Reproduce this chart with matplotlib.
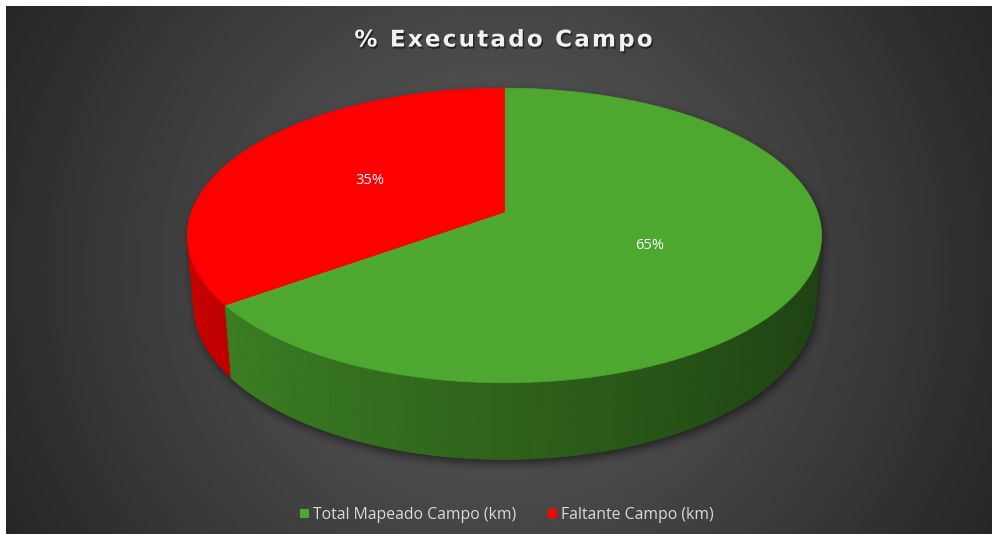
import numpy as np
import matplotlib
matplotlib.use("Agg")
import matplotlib.pyplot as plt
from matplotlib.patches import Polygon, Patch
from matplotlib.path import Path
import matplotlib.patheffects as pe

# ---- data ----
categories = ["Total Mapeado Campo (km)", "Faltante Campo (km)"]
shares = [65, 35]
slice_colors = ["#4EA72E", "#FF0000"]
chart_title = "% Executado Campo"

# ---- canvas ----
W, H = 992, 534
fig = plt.figure(figsize=(W / 100, H / 100), dpi=100, facecolor="white")
ax = fig.add_axes([0, 0, 1, 1])
ax.set_xlim(0, W)
ax.set_ylim(H, 0)
ax.axis("off")

# radial dark-gray background
x0, y0 = 6, 6
yy, xx = np.mgrid[y0:H, x0:W] + 0.5
cxb, cyb = 498, 270
dist = np.hypot(xx - cxb, yy - cyb) / np.hypot(cxb - x0, cyb - y0)
bg = np.clip((92 - 54 * dist ** 1.15) / 255.0, 0, 1)
ax.imshow(bg, extent=(x0, W, H, y0), cmap="gray", vmin=0, vmax=1,
          interpolation="bilinear", zorder=0, aspect="auto")

# ---- simple perspective camera for the 3-D pie ----
ELEV = np.radians(27.3)
DIST = 5.58
SCALE = 313
CX, CY = 504.5, 212
THICK = 0.25


def project(X, Y, Z):
    X, Y, Z = np.broadcast_arrays(np.asarray(X, float), np.asarray(Y, float),
                                  np.asarray(Z, float))
    depth = DIST + Y * np.cos(ELEV) - Z * np.sin(ELEV)
    sx = X / depth
    sy = (Y * np.sin(ELEV) + Z * np.cos(ELEV)) / depth
    return CX + SCALE * DIST * sx, CY - SCALE * DIST * sy


def rim(theta_deg, z=0.0, r=1.0):
    t = np.radians(theta_deg)
    return project(r * np.cos(t), r * np.sin(t), z)


def shade(color, t_deg):
    rgb = np.array(matplotlib.colors.to_rgb(color))
    c = np.cos(np.radians(t_deg))
    f = 0.59 - 0.20 * c
    return np.clip(rgb * f, 0, 1)


fractions = np.array(shares, float) / np.sum(shares)
bounds = 90 - 360 * np.concatenate([[0], np.cumsum(fractions)])

# ---- soft shadow under the solid ----
all_t = np.linspace(0, 360, 721)
px_top, py_top = rim(all_t, 0)
px_bot, py_bot = rim(all_t, -THICK)
pts = np.column_stack([np.concatenate([px_top, px_bot]),
                       np.concatenate([py_top, py_bot])])


def convex_hull(points):
    P = sorted(map(tuple, points))

    def cross(o, a, b):
        return (a[0] - o[0]) * (b[1] - o[1]) - (a[1] - o[1]) * (b[0] - o[0])

    lower, upper = [], []
    for p in P:
        while len(lower) >= 2 and cross(lower[-2], lower[-1], p) <= 0:
            lower.pop()
        lower.append(p)
    for p in reversed(P):
        while len(upper) >= 2 and cross(upper[-2], upper[-1], p) <= 0:
            upper.pop()
        upper.append(p)
    return np.array(lower[:-1] + upper[:-1])


hull = convex_hull(pts)
sh_dx, sh_dy = 2, 4
gy, gx = np.mgrid[0:H, 0:W] + 0.5
mask = Path(hull + [sh_dx, sh_dy]).contains_points(
    np.column_stack([gx.ravel(), gy.ravel()])).reshape(H, W).astype(float)


def box_blur(a, r, axis):
    pad = [(0, 0), (0, 0)]
    pad[axis] = (r + 1, r)
    ap = np.pad(a, pad, mode="edge")
    cs = np.cumsum(ap, axis=axis)
    n = a.shape[axis]
    hi = np.take(cs, np.arange(2 * r + 1, 2 * r + 1 + n), axis=axis)
    lo = np.take(cs, np.arange(0, n), axis=axis)
    return (hi - lo) / (2 * r + 1)


for _ in range(3):
    mask = box_blur(mask, 4, 0)
    mask = box_blur(mask, 4, 1)
shadow = np.zeros((H, W, 4))
shadow[..., 3] = mask * 0.55
ax.imshow(shadow, extent=(0, W, H, 0), zorder=1, interpolation="bilinear",
          aspect="auto")

# ---- side walls (front half), painted far to near ----
strips = []
for i, col in enumerate(slice_colors):
    t_start, t_end = bounds[i], bounds[i + 1]  # clockwise: t_start > t_end
    ts = np.arange(t_end, t_start, 1.0)
    ts = np.append(ts, t_start)
    for a, b in zip(ts[:-1], ts[1:]):
        mid = 0.5 * (a + b)
        if np.sin(np.radians(mid)) >= 0.05:
            continue
        seg = np.linspace(a, b, 3)
        tx, ty = rim(seg, 0)
        bx, by = rim(seg, -THICK)
        poly = np.column_stack([np.concatenate([tx, bx[::-1]]),
                                np.concatenate([ty, by[::-1]])])
        strips.append((np.sin(np.radians(mid)), poly, shade(col, mid)))

strips.sort(key=lambda s: -s[0])
for _, poly, c in strips:
    ax.add_patch(Polygon(poly, closed=True, facecolor=c, edgecolor=c,
                         linewidth=0.6, zorder=2))

# ---- top faces ----
for i, col in enumerate(slice_colors):
    seg = np.linspace(bounds[i], bounds[i + 1], 240)
    tx, ty = rim(seg, 0)
    ox, oy = project(0, 0, 0)
    poly = np.column_stack([np.concatenate([[ox], tx]),
                            np.concatenate([[oy], ty])])
    ax.add_patch(Polygon(poly, closed=True, facecolor=col, edgecolor=col,
                         linewidth=0.5, zorder=3))

# ---- percentage labels ----
for i in range(len(shares)):
    mid = 0.5 * (bounds[i] + bounds[i + 1])
    lx, ly = rim(mid, 0, r=0.5)
    ax.text(float(lx), float(ly), f"{shares[i]}%", ha="center", va="center",
            color="white", fontsize=10.5, family="Open Sans", zorder=5)

# ---- title (letter-spaced with hair spaces) ----
spaced_title = "\u200a".join(chart_title)
ax.text(503, 40, spaced_title, ha="center", va="center", fontsize=16.5,
        fontweight="bold", color="#f2f2f2", family="DejaVu Sans", zorder=6,
        path_effects=[pe.SimplePatchShadow(offset=(1, -1.5), shadow_rgbFace="black",
                                           alpha=0.5), pe.Normal()])

# ---- legend ----
handles = [Patch(facecolor=c, edgecolor="none", label=l)
           for c, l in zip(slice_colors, categories)]
fig.legend(handles=handles, loc="center", bbox_to_anchor=(507 / W, 1 - 515 / H),
           ncol=2, frameon=False, handlelength=0.55, handleheight=0.55,
           handletextpad=0.3, columnspacing=2.0, labelcolor="#d9d9d9",
           prop=dict(family="Open Sans", size=11.3))

fig.savefig("out.png", dpi=100, facecolor="white")
